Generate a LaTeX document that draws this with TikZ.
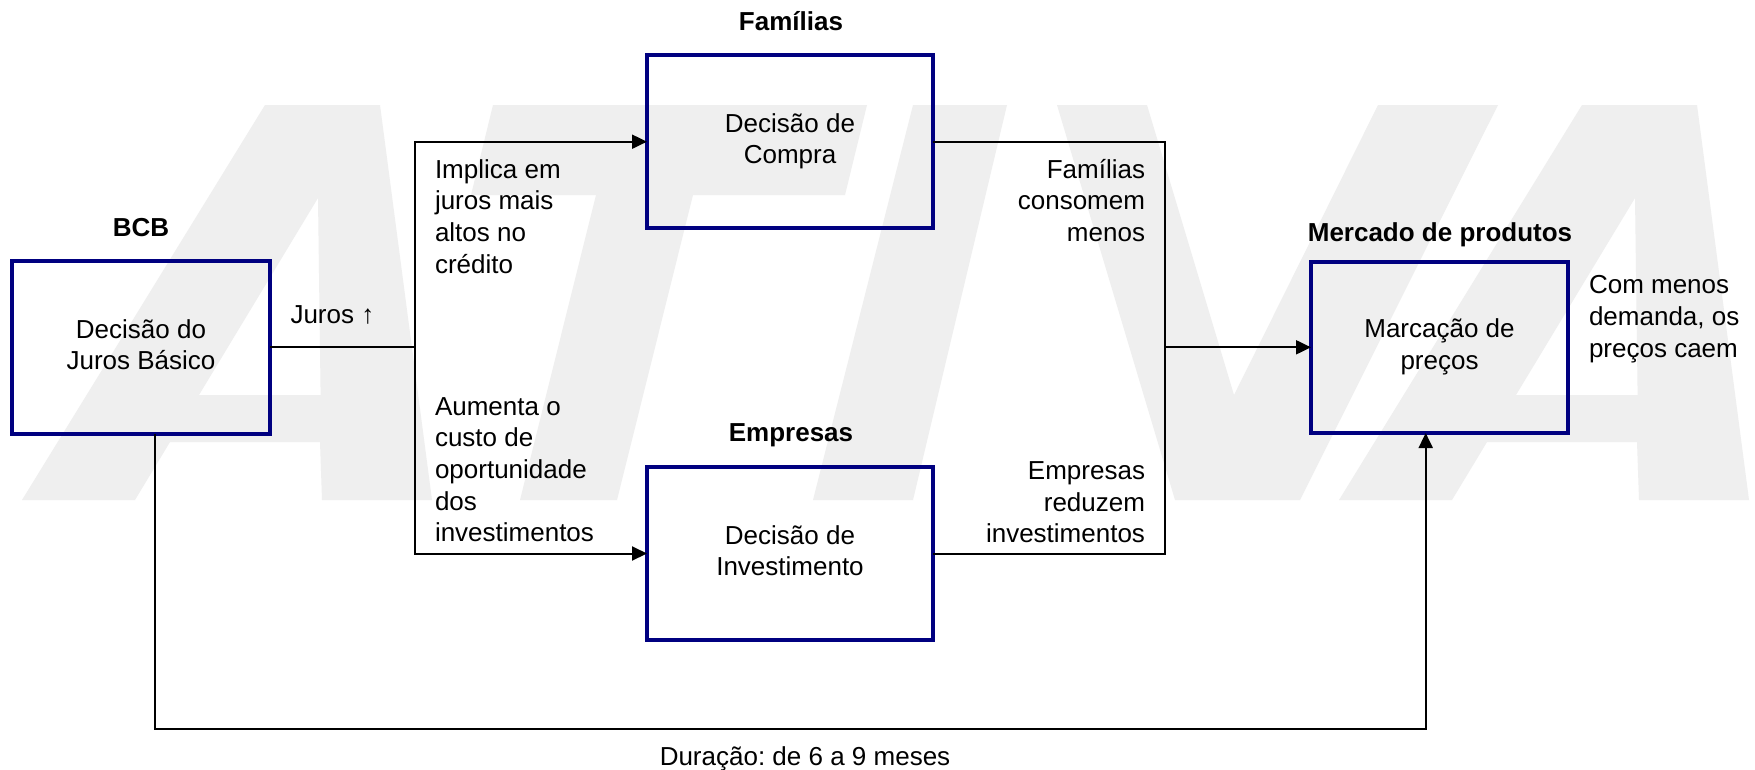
\documentclass[tikz,border=0pt]{standalone}
\usepackage{fontspec}
\setmainfont{Liberation Sans}
\frenchspacing
\usetikzlibrary{arrows.meta}
\definecolor{boxblue}{RGB}{0,0,128}
\definecolor{wm}{RGB}{239,239,239}
\begin{document}
\begin{tikzpicture}[x=1pt,y=-1pt,
  every node/.style={font=\fontsize{26pt}{31.7pt}\selectfont, inner sep=0pt, outer sep=0pt},
  boxnode/.style={draw=boxblue, line width=4pt, align=center},
  lbl/.style={font=\fontsize{26pt}{31.7pt}\selectfont\bfseries, anchor=base},
  conn/.style={line width=2pt},
  arr/.style={conn, -{Triangle[length=15pt,width=14pt]}},
  wmfill/.style={fill=wm, even odd rule}
]
\fill[white] (0,0) rectangle (1755,769);
\useasboundingbox (0,0) rectangle (1755,769);

% watermark "ATIVA"
\fill[wmfill] (22,500) -- (265,105) -- (380,105) -- (432,500) -- (322,500) -- (320,442) -- (170,442) -- (135,500) -- cycle
  (318,198) -- (199,395) -- (320.6,395) -- cycle;
\fill[wm] (493,105) -- (867,105) -- (845,195) -- (693,195) -- (617,500) -- (520,500) -- (596,195) -- (471,195) -- cycle;
\fill[wm] (913,105) -- (1007,105) -- (913,500) -- (813,500) -- cycle;
\fill[wm] (1057,105) -- (1147,105) -- (1234,395) -- (1378,105) -- (1498,105) -- (1300,500) -- (1175,500) -- cycle;
\begin{scope}[xshift=1317pt]
\fill[wmfill] (22,500) -- (265,105) -- (380,105) -- (432,500) -- (322,500) -- (320,442) -- (170,442) -- (135,500) -- cycle
  (318,198) -- (199,395) -- (320.6,395) -- cycle;
\end{scope}

% boxes
\node[boxnode, minimum width=258pt, minimum height=172.7pt] (bcb) at (141,347.7) {\strut Decisão do\\Juros Básico\strut};
\node[boxnode, minimum width=286pt, minimum height=172.7pt] (fam) at (790,141.7) {\strut Decisão de\\Compra\strut};
\node[boxnode, minimum width=286pt, minimum height=173pt] (emp) at (790,553.5) {\strut Decisão de\\Investimento\strut};
\node[boxnode, minimum width=257pt, minimum height=171pt] (merc) at (1439.5,347.5) {\strut Marcação de\\preços\strut};

% bold labels
\node[lbl] (lbcb) at (141,236) {BCB};
\node[lbl] (lfam) at (791,30.5) {Famílias};
\node[lbl] (lemp) at (791,441.7) {Empresas};
\node[lbl] (lmerc) at (1440,241.7) {Mercado de produtos};

% connectors
\coordinate (j1) at (415,347.3);
\coordinate (j2) at (1165,347.3);
\coordinate (b1) at (155.3,729.3);
\coordinate (b2) at (1425.7,729.3);
\draw[conn] (bcb.east |- j1) -- (j1);
\draw[arr] (j1) |- (fam.west);
\draw[arr] (j1) |- (emp.west);
\draw[conn] (fam.east) -| (j2);
\draw[conn] (emp.east) -| (j2);
\draw[arr] (j2) -- (merc.west |- j2);
\draw[arr] (bcb.south -| b1) -- (b1) -- (b2) -- (merc.south -| b2);

% connector texts
\node[anchor=base west] (tjuros) at (290.5,323.3) {Juros ↑};
\node[anchor=north west, align=left] (t1) at (435,156.1) {\strut Implica em\\juros mais\\altos no\\crédito};
\node[anchor=north west, align=left] (t2) at (435,392.8) {\strut Aumenta o\\custo de\\oportunidade\\dos\\investimentos};
\node[anchor=north east, align=right] (t3) at (1145,156.1) {\strut Famílias\\consomem\\menos};
\node[anchor=north east, align=right] (t4) at (1145,457.1) {\strut Empresas\\reduzem\\investimentos};
\node[anchor=north west, align=left] (t5) at (1589,271.8) {\strut Com menos\\demanda, os\\preços caem};
\node[anchor=base] (tdur) at (805,765) {Duração: de 6 a 9 meses};
\end{tikzpicture}
\end{document}
